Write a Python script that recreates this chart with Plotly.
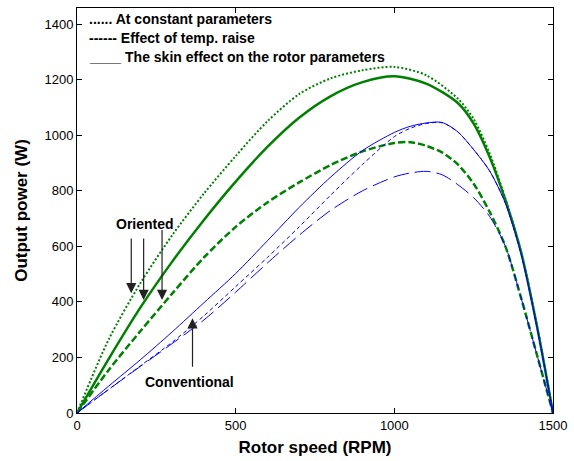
import plotly.graph_objects as go

# ---------------- data ----------------
speed = [0, 100, 200, 300, 400, 500, 600, 700, 800, 900, 1000,
         1100, 1200, 1250, 1300, 1350, 1400, 1450, 1500]

# Oriented (green)
ori_const = [0, 265, 468, 640, 790, 925, 1050, 1148, 1205, 1234, 1246,
             1216, 1132, 1058, 935, 772, 578, 312, 0]
ori_skin = [0, 195, 380, 545, 695, 833, 958, 1063, 1141, 1191, 1212,
            1186, 1116, 1042, 922, 766, 576, 310, 0]

temp_speed = [0, 100, 200, 300, 400, 500, 600, 700, 800, 900, 1000, 1050,
              1100, 1150, 1200, 1250, 1300, 1350, 1400, 1450, 1500]
ori_temp = [0, 155, 295, 430, 560, 670, 758, 830, 893, 942, 972, 975,
            962, 938, 895, 825, 725, 600, 412, 207, 0]

# Conventional (blue)
conv_speed = [0, 100, 200, 300, 400, 500, 600, 700, 800, 900, 1000,
              1050, 1100, 1150, 1200, 1250, 1300, 1350, 1400, 1450, 1500]
conv_const = [0, 85, 170, 255, 350, 455, 560, 670, 785, 895, 995,
              1025, 1042, 1045, 1012, 948, 872, 755, 570, 306, 0]
conv_temp = [0, 85, 168, 250, 335, 435, 540, 640, 730, 800, 850,
             864, 870, 858, 822, 775, 708, 600, 412, 207, 0]
conv_skin = [0, 97, 192, 292, 397, 502, 620, 740, 850, 945, 1010,
             1032, 1044, 1046, 1012, 948, 872, 755, 570, 306, 0]

x_ticks = [0, 500, 1000, 1500]
y_ticks = [0, 200, 400, 600, 800, 1000, 1200, 1400]

legend_lines = ["...... At constant parameters",
                "------ Effect of temp. raise",
                "____ The skin effect on the rotor parameters"]

GREEN = "rgb(0,128,0)"
BLUE = "rgb(0,0,255)"
FONT = "Liberation Sans, Arial, sans-serif"

fig = go.Figure()

def add(xs, ys, color, width, dash):
    fig.add_trace(go.Scatter(x=xs, y=ys, mode="lines",
                             line=dict(color=color, width=width, dash=dash,
                                       shape="spline", smoothing=0.8),
                             showlegend=False, hoverinfo="skip"))

add(speed, ori_const, GREEN, 2, "2px,2px")
add(speed, ori_skin, GREEN, 2.5, "solid")
add(temp_speed, ori_temp, GREEN, 2.5, "7px,3px")
add(conv_speed, conv_const, BLUE, 1, "4px,3px")
add(conv_speed, conv_temp, BLUE, 1, "16px,6px")
add(conv_speed, conv_skin, BLUE, 1, "solid")

annotations = []
# legend as text lines
leg_y = [0.973, 0.926, 0.878]
for txt, yy in zip(legend_lines, leg_y):
    annotations.append(dict(text="<b>%s</b>" % txt, xref="paper", yref="paper",
                            x=0.021, y=yy, xanchor="left", yanchor="middle",
                            showarrow=False,
                            font=dict(family=FONT, size=14, color="black")))

# Oriented label & arrows
annotations.append(dict(text="<b>Oriented</b>", x=213, y=682, xref="x", yref="y",
                        showarrow=False, font=dict(family=FONT, size=14, color="black")))
for (tx, ty, ay) in [(171, 431, 634), (210, 407, 634), (268, 407, 664)]:
    annotations.append(dict(text="", x=tx, y=ty, ax=tx, ay=ay, xref="x", yref="y",
                            axref="x", ayref="y", showarrow=True, arrowhead=2,
                            arrowsize=1.7, arrowwidth=1.2, arrowcolor="#222"))
# Conventional label & arrow
annotations.append(dict(text="<b>Conventional</b>", x=354, y=113, xref="x", yref="y",
                        showarrow=False, font=dict(family=FONT, size=14, color="black")))
annotations.append(dict(text="", x=364, y=341, ax=364, ay=161, xref="x", yref="y",
                        axref="x", ayref="y", showarrow=True, arrowhead=2,
                        arrowsize=1.7, arrowwidth=1.2, arrowcolor="#222"))

axis_common = dict(showline=True, linecolor="black", linewidth=1, mirror="ticks",
                   ticks="inside", ticklen=5, tickcolor="black", showgrid=False,
                   zeroline=False, tickfont=dict(family=FONT, size=13, color="black"))

fig.update_layout(
    width=574, height=461,
    margin=dict(l=77, r=18, t=7, b=48),
    paper_bgcolor="white", plot_bgcolor="white",
    annotations=annotations,
    xaxis=dict(range=[0, 1500], tickvals=x_ticks,
               title=dict(text="<b>Rotor speed (RPM)</b>", standoff=9,
                          font=dict(family=FONT, size=17, color="black")),
               **axis_common),
    yaxis=dict(range=[0, 1458], tickvals=y_ticks,
               title=dict(text="<b>Output power (W)</b>", standoff=12,
                          font=dict(family=FONT, size=17, color="black")),
               **axis_common),
)

fig.write_html("out.html")
